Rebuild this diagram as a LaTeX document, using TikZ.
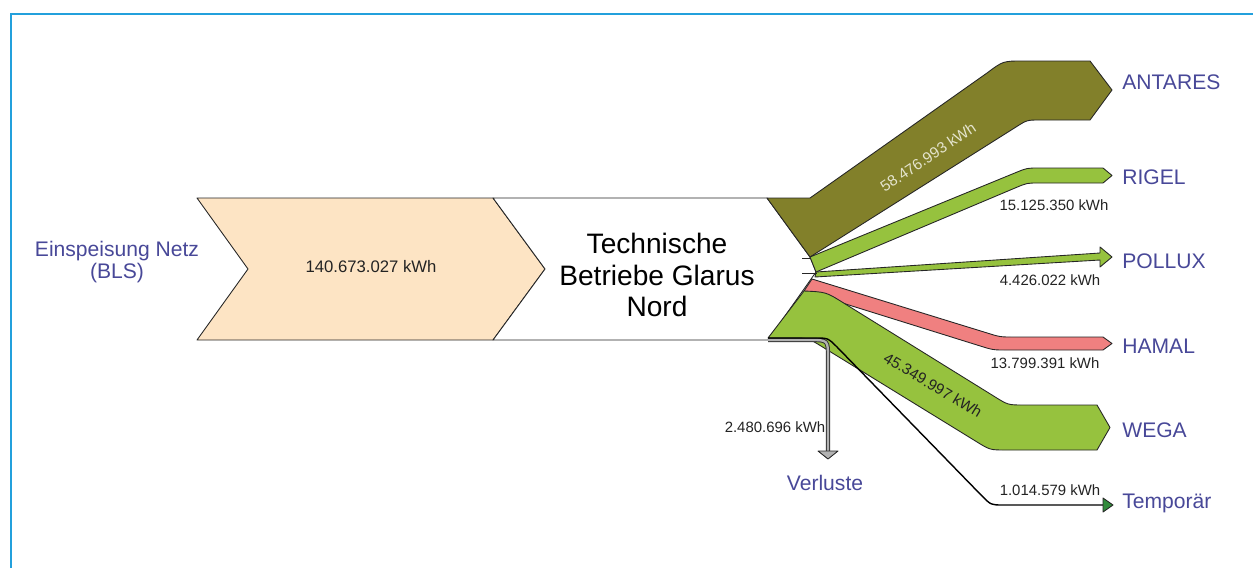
\documentclass[tikz,border=0pt]{standalone}
\usepackage{fontspec}
\setmainfont{Liberation Sans}
\usetikzlibrary{calc}
\tikzstyle{band}=[draw=black!85, line width=0.5pt, line join=round]
\tikzstyle{target}=[anchor=west, text=myblue, inner sep=0pt, font=\fontsize{12}{13}\selectfont]
\tikzstyle{amount}=[text=mytext, inner sep=0pt, font=\fontsize{8.5}{10}\selectfont]
\definecolor{myframe}{RGB}{35,160,220}
\definecolor{mypeach}{RGB}{253,228,196}
\definecolor{myolive}{RGB}{130,128,42}
\definecolor{mygreen}{RGB}{150,194,62}
\definecolor{myrose}{RGB}{240,128,128}
\definecolor{mygrey}{RGB}{178,178,178}
\definecolor{mydarkgreen}{RGB}{50,140,60}
\definecolor{myblue}{RGB}{72,72,152}
\definecolor{mytext}{RGB}{35,35,35}
\definecolor{mypale}{RGB}{228,228,205}

\begin{document}
\begin{tikzpicture}[x=0.02cm, y=-0.02cm]
\useasboundingbox (0,0) rectangle (1253,568);
\draw [myframe, line width=1.1pt] (11,568) -- (11,14) -- (1253,14);
% feed and plant
\draw [band, fill=mypeach] (197,198) -- (493,198) -- (545,269) -- (493,340) -- (197,340) -- (248,269) -- cycle;
\draw [band, fill=white] (493,198) -- (767,198) -- (810,257) -- (816,272) -- (768,340) -- (493,340) -- (545,269) -- cycle;
% outgoing bands
\draw [band, fill=myolive] (767,198) -- (810,198) -- (987,73) .. controls (1003,61) .. (1023,61) -- (1090,61) -- (1112,90) -- (1090,120) -- (1040,120) .. controls (1027,120) .. (1016,127) -- (810,257) -- cycle;
\draw [band, fill=mygreen] (810,257) -- (1016,172.5) .. controls (1027,168) .. (1039,168) -- (1103,168) -- (1112,175.5) -- (1103,183) -- (1039,183) .. controls (1027,183) .. (1016,187.6) -- (816,272) -- cycle;
\draw [band, fill=mygreen] (816,272) -- (1100,253) -- (1100,247) -- (1112,257) -- (1100,267) -- (1100,260) -- (815,277) -- cycle;
\draw [band, fill=myrose] (812,279) -- (986.6,332.8) .. controls (1000,337) .. (1014,337) -- (1103,337) -- (1112,343.5) -- (1103,350) -- (1007,350) .. controls (993,350) .. (979.6,345.8) -- (804,291) -- cycle;
\draw [band, fill=mygreen] (804,291) .. controls (826,292) .. (843,302.6) -- (994.4,396.5) .. controls (1008,405) .. (1024,405) -- (1097,405) -- (1110,427.5) -- (1097,450) -- (1006,450) .. controls (990,450) .. (976.4,441.6) -- (821.6,346.4) .. controls (808,338) .. (792,338) -- (768,338) -- cycle;
\draw [band] (802,258) -- (811,258);
\draw [band] (802,273) -- (817,273);
% losses and temporary
\draw [black!80, line width=2.4pt] (768,340) -- (810,340) .. controls (828,340) .. (828,358) -- (828,451);
\draw [mygrey, line width=1.3pt] (768,340) -- (810,340) .. controls (828,340) .. (828,358) -- (828,451);
\draw [band, fill=mygrey] (818,451) -- (838,451) -- (828,459) -- cycle;
\draw [black, line width=0.8pt] (768,338) -- (815,338) .. controls (828,338) .. (837,347) -- (982,496) .. controls (991,505) .. (1003,505) -- (1103,505);
\draw [band, fill=mydarkgreen] (1103,498) -- (1113,505) -- (1103,512) -- cycle;
% labels
\node [text=myblue, align=center, inner sep=0pt, font=\fontsize{12}{13}\selectfont] (src) at (117,262) {Einspeisung Netz\\(BLS)};
\node [align=center, inner sep=0pt, font=\fontsize{16}{18}\selectfont] (hub) at (657,275) {Technische\\Betriebe Glarus\\Nord};
\node [amount, font=\fontsize{9.5}{11}\selectfont] (aIn) at (371,267) {140.673.027 kWh};
\node [amount, text=mypale, rotate=34, font=\fontsize{8.7}{10}\selectfont] (aAntares) at (928,157) {58.476.993 kWh};
\node [amount] (aRigel) at (1054,205) {15.125.350 kWh};
\node [amount] (aPollux) at (1050,280) {4.426.022 kWh};
\node [amount] (aHamal) at (1045,363) {13.799.391 kWh};
\node [amount, rotate=-31, font=\fontsize{8.7}{10}\selectfont] (aWega) at (933,385) {45.349.997 kWh};
\node [amount] (aLoss) at (775,427) {2.480.696 kWh};
\node [amount] (aTemp) at (1050,490) {1.014.579 kWh};
\node [text=myblue, inner sep=0pt, font=\fontsize{12}{13}\selectfont] (tLoss) at (825,483) {Verluste};
\node [target] (tAntares) at (1122,82) {ANTARES};
\node [target] (tRigel) at (1122,177) {RIGEL};
\node [target] (tPollux) at (1122,261) {POLLUX};
\node [target] (tHamal) at (1122,346) {HAMAL};
\node [target] (tWega) at (1122,430) {WEGA};
\node [target] (tTemp) at (1122,503) {Temporär};
\end{tikzpicture}
\end{document}
